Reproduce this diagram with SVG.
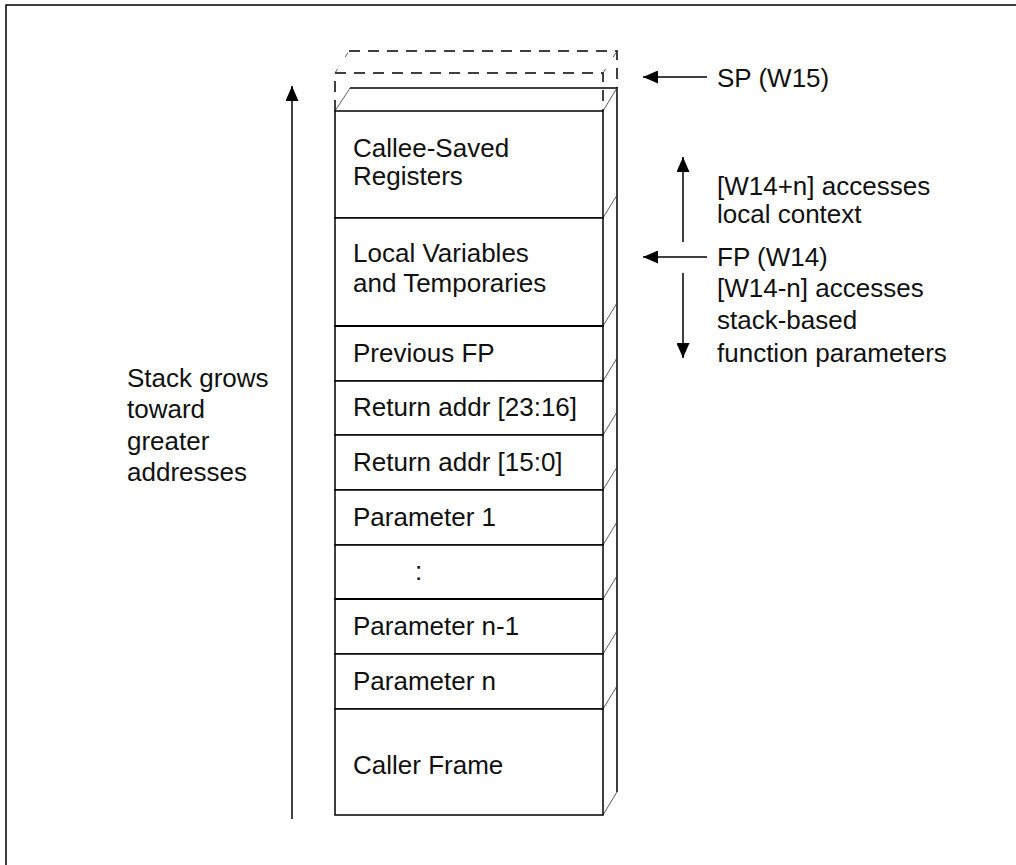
<svg xmlns="http://www.w3.org/2000/svg" width="1016" height="865" viewBox="0 0 1016 865">
<style>
text{font-family:"Liberation Sans",Arial,sans-serif;font-size:26px;fill:#111}
.f{fill:#fff;stroke:#000;stroke-width:1.5}
.ln{stroke:#000;stroke-width:1.5;fill:none}
.thk{stroke:#000;stroke-width:2.2;fill:none}
.th{stroke:#333;stroke-width:0.8;fill:none}
.d{stroke:#000;stroke-width:1.5;fill:none;stroke-dasharray:11 8}
.dt{stroke:#333;stroke-width:0.8;fill:none;stroke-dasharray:5 14}
.ar{stroke:#000;stroke-width:1.5;fill:none;marker-end:url(#ah)}
</style>
<defs>
<marker id="ah" markerWidth="15" markerHeight="13" refX="15" refY="6.5" orient="auto" markerUnits="userSpaceOnUse"><path d="M0,0 L15,6.5 L0,13 z" fill="#000"/></marker>
</defs>
<rect width="1016" height="865" fill="#fff"/>
<path class="ln" d="M6,865 V5 H1016"/>
<g id="new-slot">
<path class="d" d="M335,111 V73 H603 V111"/>
<path class="d" d="M349,51 H617 V88"/>
<path class="dt" d="M335,73 L349,51 M603,73 L617,51"/>
</g>
<g id="stack-body">
<path class="th" d="M335,111 L350,88"/>
<path class="ln" d="M350,88 H617 V792"/>
<path class="th" d="M603,111 L617,88 M603,218 L617,195 M603,326 L617,303 M603,381 L617,358 M603,435 L617,412 M603,490 L617,467 M603,545 L617,522 M603,599 L617,576 M603,654 L617,631 M603,709 L617,686 M603,815 L617,792"/>
</g>
<g id="callee-saved"><rect class="f" x="335" y="111" width="268" height="107"/><text x="353" y="157">Callee-Saved</text><text x="353" y="185">Registers</text></g>
<g id="local-vars"><rect class="f" x="335" y="218" width="268" height="108"/><text x="353" y="262">Local Variables</text><text x="353" y="292">and Temporaries</text></g>
<g id="prev-fp"><rect class="f" x="335" y="326" width="268" height="55"/><text x="353" y="362">Previous FP</text></g>
<g id="ret-hi"><rect class="f" x="335" y="381" width="268" height="54"/><text x="353" y="416">Return addr [23:16]</text></g>
<g id="ret-lo"><rect class="f" x="335" y="435" width="268" height="55"/><text x="353" y="471">Return addr [15:0]</text></g>
<g id="param-1"><rect class="f" x="335" y="490" width="268" height="55"/><text x="353" y="526">Parameter 1</text></g>
<g id="ellipsis"><rect class="f" x="335" y="545" width="268" height="54"/><text x="415" y="580">:</text></g>
<g id="param-n-1"><rect class="f" x="335" y="599" width="268" height="55"/><text x="353" y="635">Parameter n-1</text></g>
<g id="param-n"><rect class="f" x="335" y="654" width="268" height="55"/><text x="353" y="690">Parameter n</text></g>
<g id="caller-frame"><rect class="f" x="335" y="709" width="268" height="106"/><text x="353" y="774">Caller Frame</text></g>
<path class="thk" d="M335,326 H603 M335,599 H603"/>
<g id="growth-label"><text x="127" y="387">Stack grows</text><text x="127" y="418">toward</text><text x="127" y="450">greater</text><text x="127" y="481">addresses</text></g>
<g id="sp-label"><text x="717" y="87">SP (W15)</text></g>
<g id="local-access-label"><text x="717" y="195">[W14+n] accesses</text><text x="717" y="223">local context</text></g>
<g id="fp-label"><text x="717" y="266">FP (W14)</text></g>
<g id="param-access-label"><text x="717" y="297">[W14-n] accesses</text><text x="717" y="329">stack-based</text><text x="717" y="362">function parameters</text></g>
<g id="connectors">
<line class="ar" x1="292" y1="819" x2="292" y2="86"/>
<line class="ar" x1="707" y1="77" x2="643" y2="77"/>
<line class="ar" x1="683" y1="242" x2="683" y2="157"/>
<line class="ar" x1="707" y1="257" x2="643" y2="257"/>
<line class="ar" x1="683" y1="273" x2="683" y2="358"/>
</g>
</svg>
